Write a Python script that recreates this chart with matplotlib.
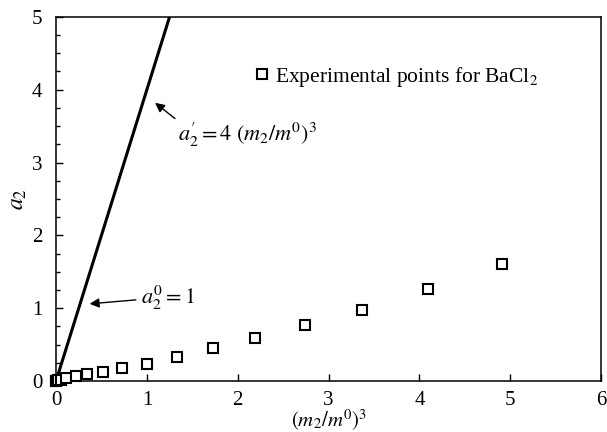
import matplotlib
matplotlib.use("Agg")
import matplotlib.pyplot as plt
import numpy as np

# data
x_exp = [0.0, 0.005, 0.02, 0.05, 0.11, 0.22, 0.34, 0.52, 0.73, 1.0, 1.33, 1.73, 2.19, 2.74, 3.37, 4.09, 4.91]
y_exp = [0.0, 0.005, 0.01, 0.02, 0.04, 0.07, 0.09, 0.13, 0.18, 0.24, 0.33, 0.45, 0.59, 0.77, 0.98, 1.26, 1.61]
x_line = [0.0, 1.25]
slope = 4

plt.rcParams['font.family'] = ['Liberation Serif', 'DejaVu Serif']
plt.rcParams['mathtext.fontset'] = 'stix'

fig = plt.figure(figsize=(6.07, 4.32), dpi=100)
ax = fig.add_axes([0.0923, 0.118, 0.898, 0.843])

# limiting line a2' = 4 (m2/m0)^3
ax.plot(x_line, [slope * v for v in x_line], color="black", linewidth=2.2, solid_capstyle="butt")

# experimental points
ax.plot(x_exp, y_exp, linestyle="none", marker="s", markersize=7, markerfacecolor="white",
        markeredgecolor="black", markeredgewidth=1.5, clip_on=False, zorder=5,
        label=r"Experimental points for BaCl$_2$")

ax.set_xlim(0, 6)
ax.set_ylim(0, 5)
ax.set_xticks(range(0, 7))
ax.set_yticks(range(0, 6))
ax.set_yticks(np.arange(0, 5.01, 0.25), minor=True)
ax.tick_params(axis="both", which="major", direction="in", length=5, width=1, labelsize=15)
ax.tick_params(axis="y", which="major", pad=10)
ax.tick_params(axis="x", which="major", pad=7)
ax.tick_params(axis="y", which="minor", direction="in", length=3, width=1)
for s in ax.spines.values():
  s.set_linewidth(1.1)

ax.set_xlabel(r"$(m_2/m^0)^3$", fontsize=15, labelpad=-1)
ax.set_ylabel(r"$a_2$", fontsize=17, labelpad=2)

# annotations
ax.annotate(r"$a_2^{\prime} = 4\ (m_2/m^0)^3$", xy=(1.09, 3.82), xytext=(1.34, 3.38),
            fontsize=16, va="center", ha="left",
            arrowprops=dict(arrowstyle="-|>", color="black", lw=1, mutation_scale=14,
                            shrinkA=0, shrinkB=0, relpos=(0, 1)))
ax.annotate(r"$a_2^0 = 1$", xy=(0.37, 1.06), xytext=(0.94, 1.14),
            fontsize=16, va="center", ha="left",
            arrowprops=dict(arrowstyle="-|>", color="black", lw=1, mutation_scale=14,
                            shrinkA=2, shrinkB=0, relpos=(0, 0.45)))

ax.legend(loc="center left", bbox_to_anchor=(0.347, 0.835), frameon=False, fontsize=15.5,
          handlelength=0.8, handletextpad=0.2, borderaxespad=0)

fig.savefig("out.png", dpi=100)
